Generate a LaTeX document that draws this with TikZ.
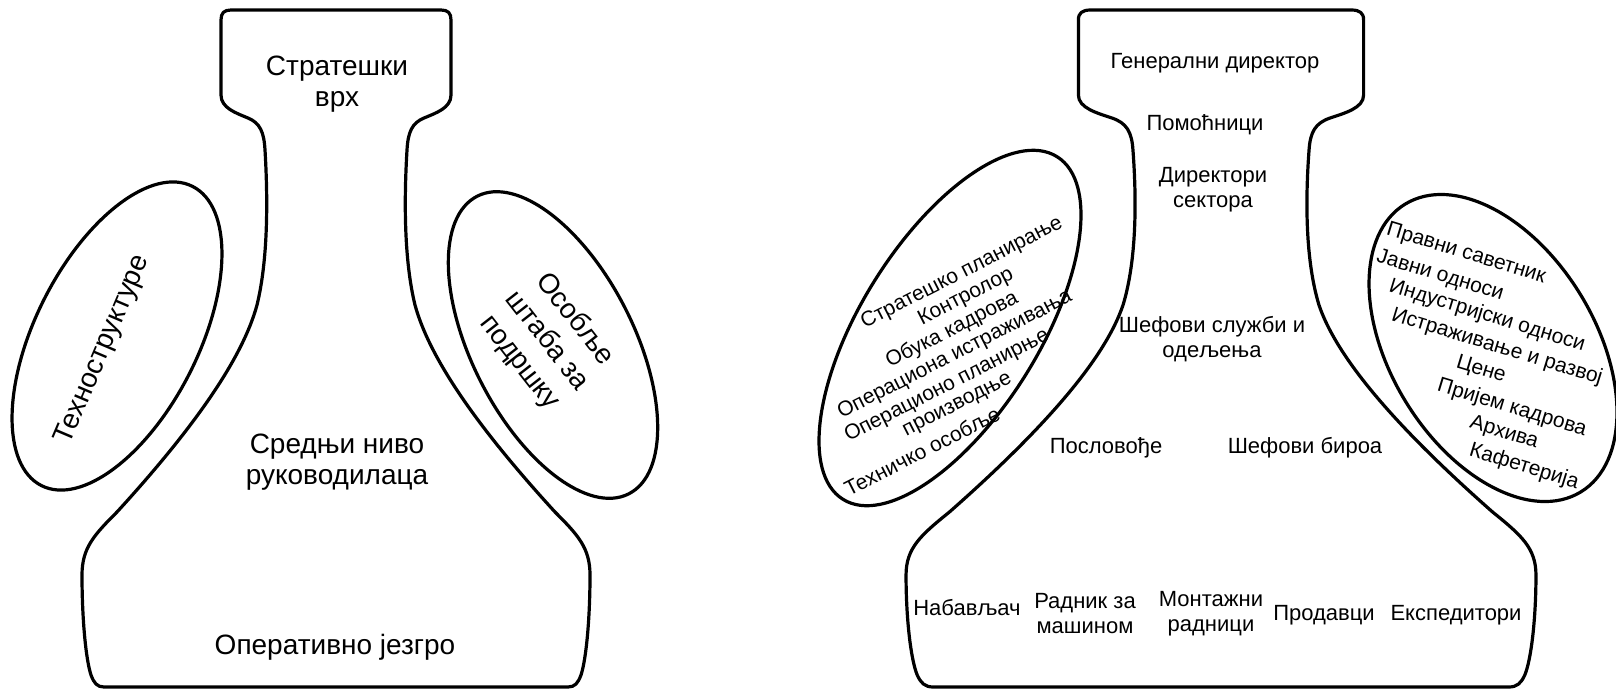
\documentclass[tikz,border=0pt]{standalone}
\usepackage{fontspec}
\setmainfont{Liberation Sans}
\tikzset{
  outline/.style={line width=1.6pt, line join=round},
  biglbl/.style={font=\fontsize{14}{15.5}\selectfont, align=center, inner sep=0pt},
  lbl/.style={font=\fontsize{11}{12.5}\selectfont, align=center, inner sep=0pt},
  ellbl/.style={font=\fontsize{10.5}{12}\selectfont, inner sep=0pt},
}
\begin{document}
\begin{tikzpicture}[x=0.5pt, y=-0.5pt]

  \useasboundingbox (0,0) rectangle (1616,691);

  %% outline of one bottle, centred on x=0
  \newcommand\bottle{(0,10) -- (105,10) .. controls (112,10) and (115,13) .. (115,20)
    -- (115,95) .. controls (115,108) and (100,113) .. (88,118)
    .. controls (76,123) and (72,132) .. (71,150)
    .. controls (68,200) and (68,260) .. (79,305)
    .. controls (94,360) and (144,430) .. (219,512)
    .. controls (242,535) and (254,548) .. (254,575)
    .. controls (254,620) and (250,660) .. (245,675)
    .. controls (242,683) and (239,687) .. (232,687)
    -- (-232,687) .. controls (-239,687) and (-242,683) .. (-245,675)
    .. controls (-250,660) and (-254,620) .. (-254,575)
    .. controls (-254,548) and (-242,535) .. (-219,512)
    .. controls (-144,430) and (-94,360) .. (-79,305)
    .. controls (-68,260) and (-68,200) .. (-71,150)
    .. controls (-72,132) and (-76,123) .. (-88,118)
    .. controls (-100,113) and (-115,108) .. (-115,95)
    -- (-115,20) .. controls (-115,13) and (-112,10) .. (-105,10) -- cycle}

  % left bottle
  \draw[outline, shift={(336,0)}] \bottle;
  \draw[outline, rotate around={63.2:(117,336)}] (117,336) ellipse [x radius=167.6, y radius=81.6];
  \draw[outline, rotate around={-63:(553,345)}] (553,345) ellipse [x radius=167, y radius=81];

  \node[biglbl] (strat) at (337,84) {Стратешки\\врх};
  \node[biglbl] (middle) at (337,462) {Средњи ниво\\руководилаца};
  \node[biglbl] (opcore) at (335,647) {Оперативно језгро};
  \node[biglbl, rotate=67] (techno) at (103,350) {Техноструктуре};
  \node[biglbl, rotate=-52, font=\fontsize{14}{17.5}\selectfont] (support) at (547,341) {Особље\\штаба за\\подршку};

  % right bottle
  \draw[outline, shift={(1221,0)}, xscale=1.24] \bottle;
  \draw[outline, rotate around={58:(950,328)}] (950,328) ellipse [x radius=202, y radius=89];
  \draw[outline, rotate around={-58.6:(1493,348)}] (1493,348) ellipse [x radius=168.6, y radius=102.5];

  \node[lbl] (gendir) at (1215,63) {Генерални директор};
  \node[lbl] (assist) at (1205,125) {Помоћници};
  \node[lbl] (secdir) at (1213,190) {Директори\\сектора};
  \node[lbl] (depts) at (1212,339) {Шефови служби и\\одељења};
  \node[lbl] (foremen) at (1106,448) {Пословође};
  \node[lbl] (bureau) at (1305,448) {Шефови бироа};

  \node[lbl] (buyer) at (967,608) {Набављач};
  \node[lbl] (machine) at (1085,614) {Радник за\\машином};
  \node[lbl] (assembly) at (1211,614) {Монтажни\\радници};
  \node[lbl] (sales) at (1324,615) {Продавци};
  \node[lbl] (shipping) at (1456,615) {Експедитори};

  %% technostructure
  \node[ellbl, rotate=27] (tsA) at (962,273) {Стратешко планирање};
  \node[ellbl, rotate=27] (tsB) at (966,297) {Контролор};
  \node[ellbl, rotate=27] (tsC) at (952,330) {Обука кадрова};
  \node[ellbl, rotate=27] (tsD) at (955,355) {Операциона истраживања};
  \node[ellbl, rotate=27] (tsE) at (947,386) {Операционо планирње};
  \node[ellbl, rotate=27] (tsF) at (958,406) {производње};
  \node[ellbl, rotate=27] (tsG) at (922,451) {Техничко особље};

  %% support staff
  \node[ellbl, rotate=-17] (spA) at (1466,254) {Правни саветник};
  \node[ellbl, rotate=-17] (spB) at (1440,276) {Јавни односи};
  \node[ellbl, rotate=-17] (spC) at (1487,316) {Индустријски односи};
  \node[ellbl, rotate=-17] (spD) at (1497,347) {Истраживање и развој};
  \node[ellbl, rotate=-17] (spE) at (1481,370) {Цене};
  \node[ellbl, rotate=-17] (spF) at (1512,408) {Пријем кадрова};
  \node[ellbl, rotate=-17] (spG) at (1504,433) {Архива};
  \node[ellbl, rotate=-17] (spH) at (1524,467) {Кафетерија};

\end{tikzpicture}
\end{document}
